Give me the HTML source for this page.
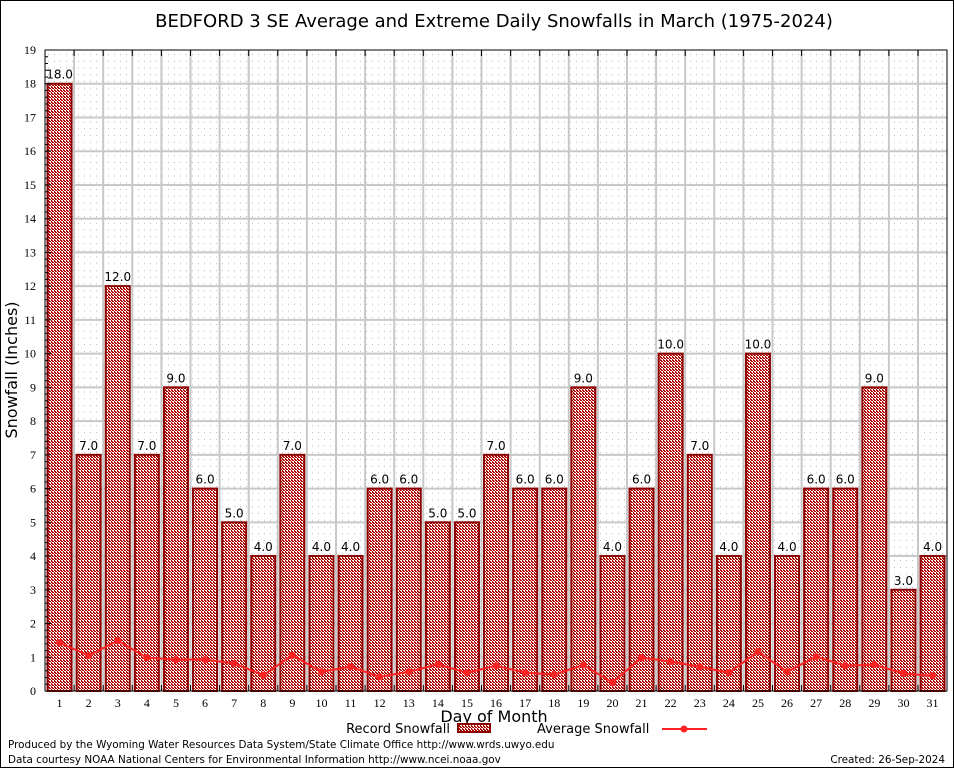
<!DOCTYPE html>
<html><head><meta charset="utf-8"><style>
body{margin:0;background:#fff}
svg{display:block;font-family:"DejaVu Sans",sans-serif}
.s{font-family:"Liberation Serif",serif;font-size:12px}
</style></head><body>
<svg id="c" width="954" height="768">
<defs>
<pattern id="hatch" width="3" height="3" patternUnits="userSpaceOnUse">
<rect width="3" height="3" fill="#fff"/><rect width="2" height="1" fill="#b00000"/><rect x="1" y="1" width="2" height="1" fill="#b00000"/><rect y="2" width="1" height="1" fill="#b00000"/>
</pattern>
<pattern id="minor" width="6" height="6.75" patternUnits="userSpaceOnUse">
<rect x="0" y="0" width="1" height="1" fill="#bbb"/>
</pattern>
</defs>
<rect x="0.5" y="0.5" width="953" height="767" fill="#fff" stroke="#000"/>
<text x="494" y="27" font-size="18" text-anchor="middle">BEDFORD 3 SE Average and Extreme Daily Snowfalls in March (1975-2024)</text>
<rect x="45" y="50" width="902" height="641" fill="url(#minor)"/>
<g id="grid"></g>
<g id="bars"></g>
<g id="avg"></g>
<rect x="45" y="50" width="902" height="641" fill="none" stroke="#000"/>
<g id="axes"></g>
<text transform="translate(17,370) rotate(-90)" font-size="16" text-anchor="middle">Snowfall (Inches)</text>
<text x="494" y="722" font-size="16" text-anchor="middle">Day of Month</text>
<g>
<text x="450" y="733" font-size="13" text-anchor="end">Record Snowfall</text>
<rect x="458" y="724" width="32" height="8" fill="url(#hatch)" stroke="#8b0000" stroke-width="2"/>
</g>
<g>
<text x="537" y="733" font-size="13">Average Snowfall</text>
<line x1="662" y1="729" x2="707" y2="729" stroke="#f22" stroke-width="2"/>
<circle cx="684" cy="729" r="3.5" fill="#f22"/>
</g>
<text x="8" y="748" font-size="10.4">Produced by the Wyoming Water Resources Data System/State Climate Office http://www.wrds.uwyo.edu</text>
<text x="8" y="763" font-size="10.4">Data courtesy NOAA National Centers for Environmental Information http://www.ncei.noaa.gov</text>
<text x="945" y="763" font-size="10.4" text-anchor="end">Created: 26-Sep-2024</text>
</svg>
<script>
const days=[1,2,3,4,5,6,7,8,9,10,11,12,13,14,15,16,17,18,19,20,21,22,23,24,25,26,27,28,29,30,31];
const recordSnow=[18,7,12,7,9,6,5,4,7,4,4,6,6,5,5,7,6,6,9,4,6,10,7,4,10,4,6,6,9,3,4];
const avgSnow=[1.43,1.05,1.49,0.99,0.93,0.93,0.82,0.47,1.06,0.57,0.72,0.42,0.57,0.79,0.54,0.75,0.54,0.49,0.77,0.25,0.99,0.87,0.72,0.54,1.17,0.57,1.02,0.75,0.78,0.52,0.45];
const yTicks=[0,1,2,3,4,5,6,7,8,9,10,11,12,13,14,15,16,17,18,19];
const NS="http://www.w3.org/2000/svg";
const L=45,B=691,T=50,DW=29.1;
const ys=v=>B-(B-T)*v/19;
const xs=d=>L+(d-0.5)*DW;
function mk(p,t,a){const e=document.createElementNS(NS,t);for(const k in a)e.setAttribute(k,a[k]);document.getElementById(p).appendChild(e);return e;}
yTicks.forEach(v=>{
 if(v>0&&v<19){const g=mk('grid','line',{x1:L,x2:947,y1:ys(v),y2:ys(v),stroke:'#c8c8c8','stroke-width':2});
 
 }
 const t=mk('axes','text',{x:36,y:ys(v)+4,'text-anchor':'end',class:'s'});t.textContent=v;
 
 
 mk('axes','line',{x1:L,x2:L+6,y1:ys(v),y2:ys(v),stroke:'#000'});
 if(v<19)for(let m=1;m<5;m++)mk('axes','line',{x1:L,x2:L+3,y1:ys(v+m/5),y2:ys(v+m/5),stroke:'#000'});
});
days.forEach((d,i)=>{
 const gx=L+d*DW;
 if(d<31){const g=mk('grid','line',{x1:gx,x2:gx,y1:T,y2:B,stroke:'#c8c8c8','stroke-width':2});
 
 
 mk('axes','line',{x1:gx,x2:gx,y1:T,y2:T+6,stroke:'#000'});
 mk('axes','line',{x1:gx,x2:gx,y1:B,y2:B-6,stroke:'#000'});}
 const r=mk('bars','rect',{x:xs(d)-12,y:ys(recordSnow[i]),width:24,height:B-ys(recordSnow[i]),fill:'url(#hatch)',stroke:'#8b0000','stroke-width':2});
 
 
 const lb=mk('bars','text',{x:xs(d),y:ys(recordSnow[i])-5,'text-anchor':'middle','font-size':12});lb.textContent=recordSnow[i].toFixed(1);
 
 
 const t=mk('axes','text',{x:xs(d),y:707,'text-anchor':'middle',class:'s'});t.textContent=d;
 
 
});
const pts=days.map((d,i)=>xs(d)+','+ys(avgSnow[i])).join(' ');
const pl=mk('avg','polyline',{points:pts,fill:'none',stroke:'#f22','stroke-width':2});


days.forEach((d,i)=>{const c=mk('avg','circle',{cx:xs(d),cy:ys(avgSnow[i]),r:3.5,fill:'#f22'});
 
 });
</script>
</body></html>
